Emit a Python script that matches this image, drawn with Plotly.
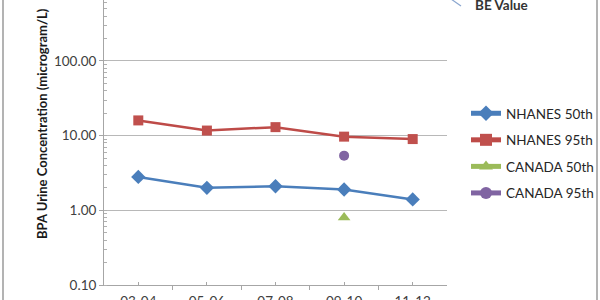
import plotly.graph_objects as go

periods = ["03-04", "05-06", "07-08", "09-10", "11-12"]
nhanes50 = [2.8, 2.0, 2.1, 1.9, 1.4]
nhanes95 = [16.0, 11.7, 13.0, 9.7, 9.0]
canada_period = ["09-10"]
canada50 = [0.8]
canada95 = [5.4]
ytick_vals = [0.1, 1, 10, 100, 1000]
ytick_text = ["0.10", "1.00", "10.00", "100.00", "1000.00"]

xidx = list(range(len(periods)))
cidx = [periods.index(p) for p in canada_period]

W, H = 600, 300
L, R, T, B = 104, 153, 0, 15
pw, ph = W - L - R, H - T - B

def px(x):
    return (x - L) / pw

def py(y):
    return (H - B - y) / ph

fig = go.Figure()
fig.add_trace(go.Scatter(x=xidx, y=nhanes50, name="NHANES 50th", mode="lines+markers",
                         line=dict(color="#4a7ebb", width=2.5),
                         marker=dict(symbol="diamond", size=11, color="#4a7ebb"),
                         legendgroup="a"))
fig.add_trace(go.Scatter(x=xidx, y=nhanes95, name="NHANES 95th", mode="lines+markers",
                         line=dict(color="#be4b48", width=2.5),
                         marker=dict(symbol="square", size=10, color="#c0504d"),
                         legendgroup="b"))
fig.add_trace(go.Scatter(x=cidx, y=canada50, name="CANADA 50th", mode="lines+markers",
                         line=dict(color="#9bbb59", width=2.5),
                         marker=dict(symbol="triangle-up", size=11, color="#9bbb59"),
                         legendgroup="c"))
fig.add_trace(go.Scatter(x=cidx, y=canada95, name="CANADA 95th", mode="lines+markers",
                         line=dict(color="#8064a2", width=2.5),
                         marker=dict(symbol="circle", size=10, color="#8064a2"),
                         legendgroup="d"))

top = 2 + 61 / 74.7

fig.update_layout(
    width=W, height=H,
    margin=dict(l=L, r=R, t=T, b=B, autoexpand=False),
    paper_bgcolor="white", plot_bgcolor="white",
    font=dict(family="Lato, Liberation Sans, sans-serif", size=13, color="#262626"),
    showlegend=True,
    legend=dict(x=px(466), y=py(98), xanchor="left", yanchor="top",
                traceorder="grouped", tracegroupgap=6, itemsizing="constant",
                font=dict(size=13.5, color="#262626"), itemwidth=30,
                bgcolor="rgba(0,0,0,0)"),
    xaxis=dict(range=[-0.5, 4.5], tickvals=xidx, ticktext=periods,
               showgrid=False, zeroline=False, showline=True, automargin=False,
               linecolor="#a6a6a6", linewidth=1,
               ticks="inside", ticklen=3, tickcolor="#a6a6a6",
               ticklabelstandoff=4,
               minor=dict(tick0=-0.5, dtick=1, ticks="outside", ticklen=4, tickcolor="#a6a6a6"),
               tickfont=dict(size=13.5, color="#404040")),
    yaxis=dict(type="log", range=[-1, top], tickvals=ytick_vals, ticktext=ytick_text,
               showgrid=True, gridcolor="#b8b8b8", gridwidth=1, automargin=False,
               zeroline=False, showline=True, linecolor="#a6a6a6", linewidth=1,
               ticks="outside", ticklen=4, tickcolor="#a6a6a6",
               minor=dict(dtick="D1", ticks="inside", ticklen=3, tickcolor="#b0b0b0", showgrid=False),
               tickfont=dict(size=13.5, color="#404040")),
)

fig.add_annotation(xref="paper", yref="paper", x=px(32), y=py(124),
                   text="<b>BPA Urine Concentration (microgram/L)</b>",
                   textangle=-90, showarrow=False,
                   font=dict(size=13, color="#1a1a1a"))
fig.add_annotation(xref="paper", yref="paper", x=px(473), y=py(5),
                   text="<b>BE Value</b>", xanchor="left", yanchor="middle",
                   showarrow=False, font=dict(size=13.5, color="#333333"))
fig.add_shape(type="line", xref="paper", yref="paper",
              x0=px(451), y0=py(-1), x1=px(461), y1=py(6),
              line=dict(color="#8aa6cf", width=1.2))
# chart border
fig.add_shape(type="line", xref="paper", yref="paper",
              x0=px(3), y0=py(-2), x1=px(3), y1=py(302),
              line=dict(color="#9a9a9a", width=1.5))
fig.add_shape(type="line", xref="paper", yref="paper",
              x0=px(597), y0=py(-2), x1=px(597), y1=py(302),
              line=dict(color="#9a9a9a", width=1.5))

fig.write_html("out.html")
